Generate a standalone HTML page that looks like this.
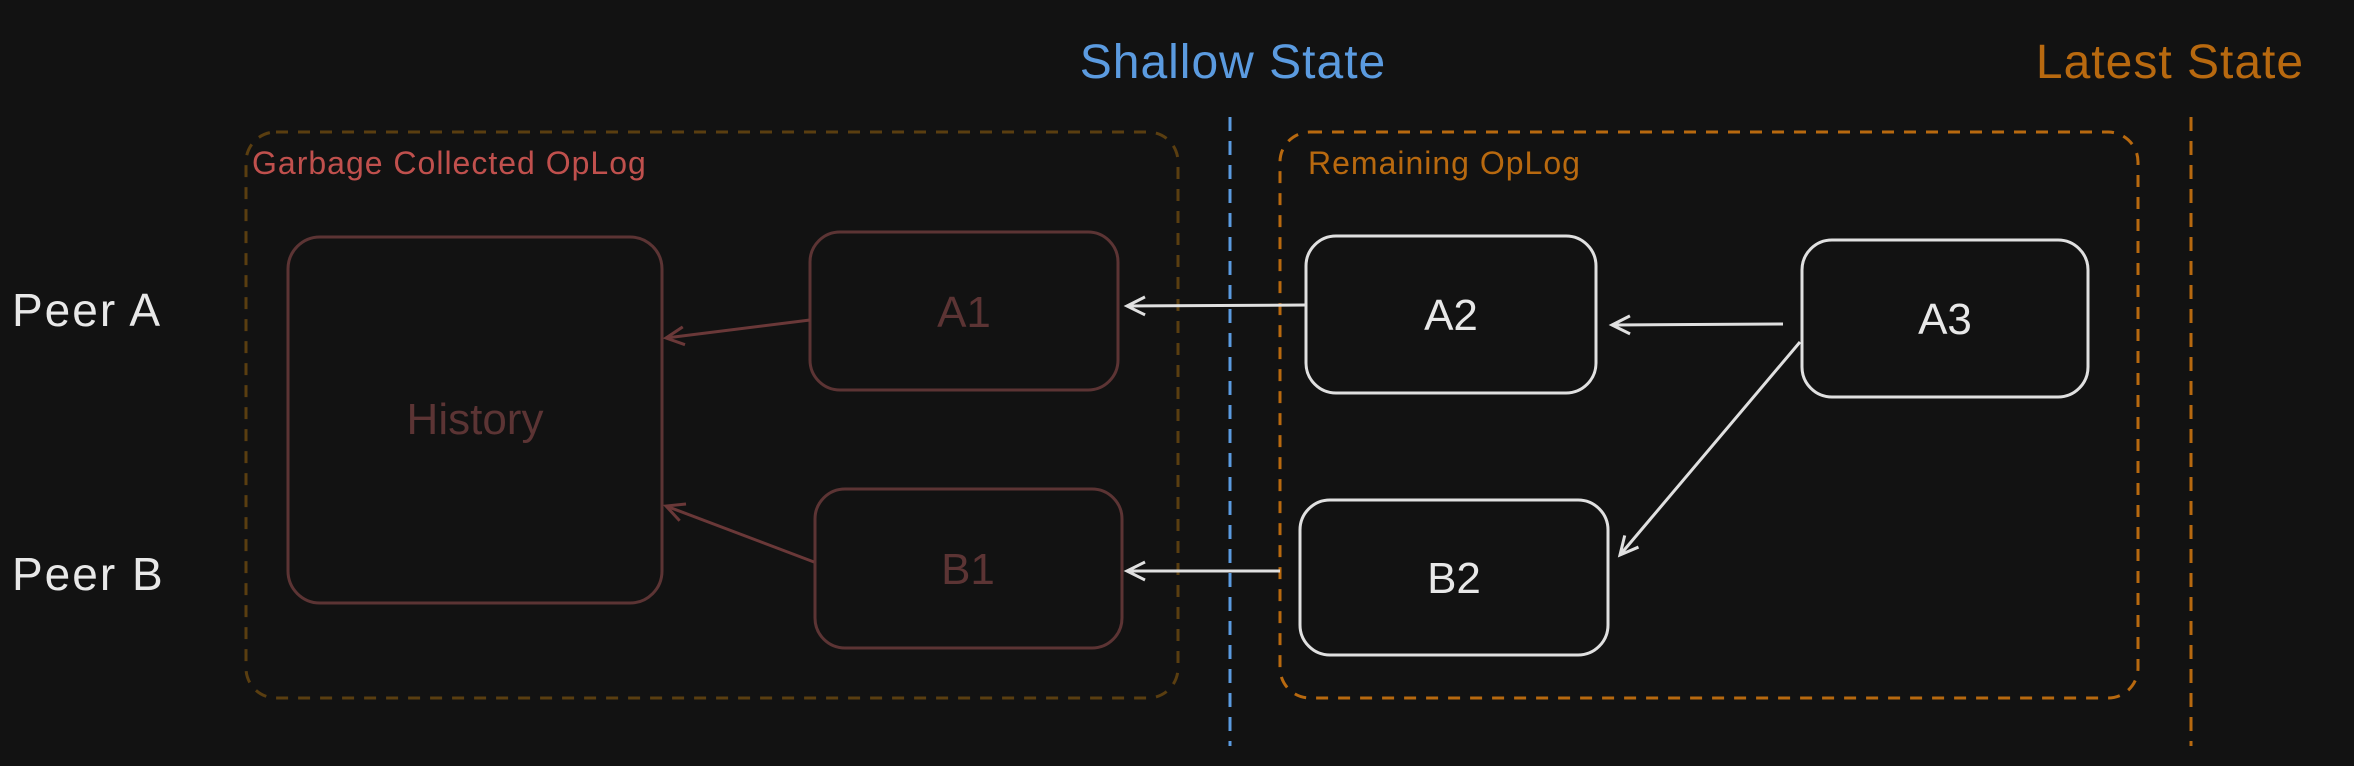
<!DOCTYPE html>
<html><head><meta charset="utf-8"><style>
html,body{margin:0;padding:0;background:#121212;}
svg{display:block}
text{font-family:"Liberation Sans",sans-serif;}
</style></head><body>
<svg width="2354" height="766" viewBox="0 0 2354 766" xmlns="http://www.w3.org/2000/svg">
<rect width="2354" height="766" fill="#121212"/>
<defs>
<marker id="aw" markerWidth="24" markerHeight="24" refX="20" refY="12" orient="auto" markerUnits="userSpaceOnUse"><path d="M2,3 L20,12 L2,21" fill="none" stroke="#e0e0e0" stroke-width="3"/></marker>
<marker id="ab" markerWidth="24" markerHeight="24" refX="20" refY="12" orient="auto" markerUnits="userSpaceOnUse"><path d="M2,3 L20,12 L2,21" fill="none" stroke="#6a3838" stroke-width="3"/></marker>
</defs>
<!-- titles -->
<text x="1233" y="78" font-size="48" fill="#5b9be0" text-anchor="middle" letter-spacing="1">Shallow State</text>
<text x="2170" y="78" font-size="48" fill="#b8690f" text-anchor="middle" letter-spacing="1">Latest State</text>
<!-- vertical dashed lines -->
<line x1="1230" y1="117" x2="1230" y2="746" stroke="#5b9be0" stroke-width="3" stroke-dasharray="14 10"/>
<line x1="2191" y1="117" x2="2191" y2="746" stroke="#b8690f" stroke-width="3" stroke-dasharray="14 10"/>
<!-- group boxes -->
<rect x="246" y="132" width="932" height="566" rx="30" fill="none" stroke="#5a3e10" stroke-width="3" stroke-dasharray="12 10"/>
<rect x="1280" y="132" width="858" height="566" rx="30" fill="none" stroke="#b8690f" stroke-width="3" stroke-dasharray="12 10"/>
<text x="252" y="174" font-size="32" fill="#c0504d" letter-spacing="1">Garbage Collected OpLog</text>
<text x="1308" y="174" font-size="32" fill="#b8690f" letter-spacing="1">Remaining OpLog</text>
<!-- peers -->
<text x="12" y="326" font-size="46" fill="#e8e8e8" letter-spacing="2">Peer A</text>
<text x="12" y="590" font-size="46" fill="#e8e8e8" letter-spacing="2">Peer B</text>
<!-- brown nodes -->
<g fill="none" stroke="#5c3434" stroke-width="3">
<rect x="288" y="237" width="374" height="366" rx="32"/>
<rect x="810" y="232" width="308" height="158" rx="30"/>
<rect x="815" y="489" width="307" height="159" rx="30"/>
</g>
<g fill="#5c3434" font-size="44" text-anchor="middle">
<text x="475" y="434">History</text>
<text x="964" y="327">A1</text>
<text x="968" y="584">B1</text>
</g>
<!-- white nodes -->
<g fill="none" stroke="#e0e0e0" stroke-width="3">
<rect x="1306" y="236" width="290" height="157" rx="30"/>
<rect x="1802" y="240" width="286" height="157" rx="30"/>
<rect x="1300" y="500" width="308" height="155" rx="30"/>
</g>
<g fill="#e8e8e8" font-size="44" text-anchor="middle">
<text x="1451" y="330">A2</text>
<text x="1945" y="334">A3</text>
<text x="1454" y="593">B2</text>
</g>
<!-- arrows -->
<g stroke-width="3" fill="none">
<line x1="810" y1="320" x2="666" y2="338" stroke="#6a3838" marker-end="url(#ab)"/>
<line x1="814" y1="562" x2="666" y2="506" stroke="#6a3838" marker-end="url(#ab)"/>
<line x1="1306" y1="305" x2="1127" y2="306" stroke="#e0e0e0" marker-end="url(#aw)"/>
<line x1="1280" y1="571" x2="1127" y2="571" stroke="#e0e0e0" marker-end="url(#aw)"/>
<line x1="1783" y1="324" x2="1612" y2="325" stroke="#e0e0e0" marker-end="url(#aw)"/>
<line x1="1800" y1="342" x2="1620" y2="555" stroke="#e0e0e0" marker-end="url(#aw)"/>
</g>
</svg>
</body></html>
